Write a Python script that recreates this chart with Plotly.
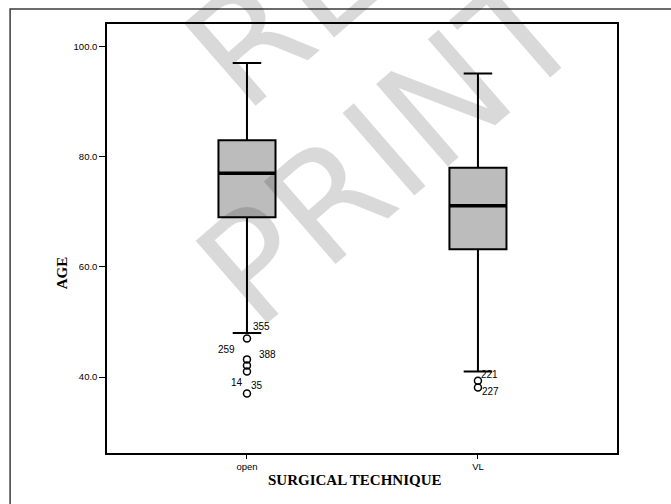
import plotly.graph_objects as go

# ---- data ----
categories = ["open", "VL"]
lower_whisker = [48.0, 41.0]
q1_vals = [69.0, 63.2]
median_vals = [77.0, 71.1]
q3_vals = [83.0, 78.0]
upper_whisker = [97.0, 95.1]

open_outliers = [47.0, 43.2, 42.1, 41.0, 37.0]
vl_outliers = [39.3, 38.1]

open_label_ids = ["355", "259", "388", "14", "35"]
open_label_vals = [47.0, 43.2, 42.1, 37.0, 37.0]
vl_label_ids = ["221", "227"]
vl_label_vals = [39.3, 38.1]

y_tick_vals = [40, 60, 80, 100]

# ---- style ----
BOX_W = 0.247
open_label_shift = [(15, 12), (-20, 10), (21, 11), (-10, 11), (10, 8)]
vl_label_shift = [(12, 6), (13, -4)]

fig = go.Figure()
for i, c in enumerate(categories):
    fig.add_trace(go.Box(
        x=[c], q1=[q1_vals[i]], median=[median_vals[i]], q3=[q3_vals[i]],
        lowerfence=[lower_whisker[i]], upperfence=[upper_whisker[i]],
        width=BOX_W, whiskerwidth=0.5, boxpoints=False,
        fillcolor="rgb(188,188,188)", line=dict(color="black", width=2),
        showlegend=False, hoverinfo="skip"))

fig.add_trace(go.Scatter(
    x=[categories[0]] * len(open_outliers) + [categories[1]] * len(vl_outliers),
    y=open_outliers + vl_outliers, mode="markers",
    marker=dict(symbol="circle-open", size=7, color="black", line=dict(width=1.5)),
    showlegend=False, hoverinfo="skip"))

shapes = []
for i, c in enumerate(categories):
    shapes.append(dict(type="line", xref="x", yref="y",
                       x0=i - BOX_W / 2, x1=i + BOX_W / 2,
                       y0=median_vals[i], y1=median_vals[i],
                       line=dict(color="black", width=3.5)))
# outer frame of the figure
shapes.append(dict(type="rect", xref="paper", yref="paper",
                   x0=-0.190, x1=1.2, y0=-0.2, y1=1.035,
                   line=dict(color="rgb(60,60,60)", width=1.5), layer="below"))

annotations = []
lab_font = dict(family="Liberation Sans, Arial", size=10, color="black")
for lid, v, (dx, dy) in zip(open_label_ids, open_label_vals, open_label_shift):
    annotations.append(dict(x=categories[0], y=v, text=lid, showarrow=False,
                            xshift=dx, yshift=dy, font=lab_font))
for lid, v, (dx, dy) in zip(vl_label_ids, vl_label_vals, vl_label_shift):
    annotations.append(dict(x=categories[1], y=v, text=lid, showarrow=False,
                            xshift=dx, yshift=dy, font=lab_font))

annotations.append(dict(xref="paper", yref="y", x=-0.108, y=59, text="<b>AGE</b>",
                        textangle=-90, showarrow=False,
                        font=dict(family="Liberation Serif, Times New Roman", size=15, color="black")))
annotations.append(dict(xref="paper", yref="paper", x=0.486, y=-0.086,
                        text="<b>SURGICAL TECHNIQUE</b>", showarrow=False,
                        font=dict(family="Liberation Serif, Times New Roman", size=15, color="black")))

# watermark
wm_font = dict(family="DejaVu Sans, Liberation Sans", size=150, color="rgba(0,0,0,0.15)")
annotations.append(dict(xref="paper", yref="paper", x=0.555, y=0.71, text="PRINT",
                        textangle=-41, showarrow=False, xanchor="center", yanchor="middle",
                        font=wm_font))
annotations.append(dict(xref="paper", yref="paper", x=0.35, y=1.03, text="RE",
                        textangle=-41, showarrow=False, xanchor="center", yanchor="middle",
                        font=wm_font))

fig.update_layout(
    width=671, height=504,
    margin=dict(l=107, r=54, t=24, b=51),
    paper_bgcolor="white", plot_bgcolor="white",
    shapes=shapes, annotations=annotations,
    xaxis=dict(type="category", categoryorder="array", categoryarray=categories,
               range=[-0.606, 1.602], showline=True, mirror=True,
               linecolor="black", linewidth=1.5, ticks="outside", ticklen=4,
               tickcolor="black", showgrid=False, zeroline=False,
               tickfont=dict(family="Liberation Sans, Arial", size=9.5, color="black")),
    yaxis=dict(range=[26.2, 104.1], tickvals=y_tick_vals, tickformat=".1f",
               showline=True, mirror=True, linecolor="black", linewidth=1.5,
               ticks="outside", ticklen=6, tickcolor="black", showgrid=False,
               zeroline=False,
               tickfont=dict(family="Liberation Sans, Arial", size=9.5, color="black")),
)

# remove the page's default 8px body margin so the figure fills the window exactly
fig.write_html("out.html", config={"displayModeBar": False},
               post_script="document.body.style.margin='0';document.body.style.overflow='hidden';")
